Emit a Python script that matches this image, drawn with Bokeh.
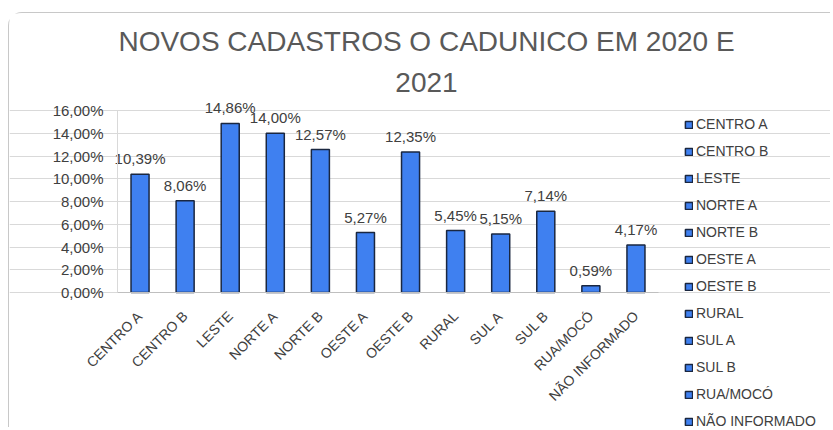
from math import pi
from bokeh.plotting import figure
from bokeh.models import ColumnDataSource, Range1d, FixedTicker, Label
from bokeh.core.properties import value
from bokeh.embed import file_html
from bokeh.resources import INLINE

# ---- data ----
categories = ["CENTRO A", "CENTRO B", "LESTE", "NORTE A", "NORTE B", "OESTE A",
              "OESTE B", "RURAL", "SUL A", "SUL B", "RUA/MOCÓ", "NÃO INFORMADO"]
percentages = [10.39, 8.06, 14.86, 14.00, 12.57, 5.27, 12.35, 5.45, 5.15, 7.14, 0.59, 4.17]
y_ticks = [0, 2, 4, 6, 8, 10, 12, 14, 16]
y_tick_labels = ["0,00%", "2,00%", "4,00%", "6,00%", "8,00%", "10,00%",
                 "12,00%", "14,00%", "16,00%"]
title_line1 = "NOVOS CADASTROS O CADUNICO EM 2020 E"
title_line2 = "2021"

value_labels = [f"{v:.2f}".replace(".", ",") + "%" for v in percentages]
positions = list(range(len(categories)))

FONT = "Liberation Sans"
TXT = "#404040"
BAR_FILL = "#3F80F0"
BAR_LINE = "#1a2740"

source = ColumnDataSource(data=dict(pos=positions, cat=categories,
                                    val=percentages, lab=value_labels))

# ---- geometry (canvas px; the frame covers the whole canvas) ----
W, H = 822, 415
PLOT_L, PLOT_R = 108, 649      # horizontal extent of the bar area
Y0_PX, Y16_PX = 279, 97        # vertical pixel rows of 0 % and 16 %
n = len(categories)
px_per_cat = (PLOT_R - PLOT_L) / n
px_per_unit = (Y0_PX - Y16_PX) / 16.0
x_start = -0.5 - PLOT_L / px_per_cat
x_end = x_start + W / px_per_cat
y_start = -(H - Y0_PX) / px_per_unit
y_end = 16 + Y16_PX / px_per_unit

p = figure(
    x_range=Range1d(x_start, x_end),
    y_range=Range1d(y_start, y_end),
    width=W, height=H,
    output_backend="svg",
    toolbar_location=None,
    title=None,
    min_border_left=0, min_border_right=0,
    min_border_top=0, min_border_bottom=0,
)
p.styles = {
    "border-top": "1px solid #c8c8c8",
    "border-left": "1px solid #c8c8c8",
    "border-top-left-radius": "14px",
    "margin-top": "12px",
    "margin-left": "8px",
}
p.outline_line_color = None
p.background_fill_color = "white"
p.border_fill_color = "white"

# title (frame-relative screen units, y up from the bottom)
for txt, bottom_px in ((title_line1, 43), (title_line2, 78)):
    p.add_layout(Label(x=417, y=H - bottom_px, x_units="screen", y_units="screen",
                       text=txt, text_align="center", text_baseline="bottom",
                       text_font=FONT, text_font_size="28px", text_color="#595959"))

p.vbar(x="pos", top="val", width=0.4, source=source,
       fill_color=BAR_FILL, line_color=BAR_LINE, line_width=1.5,
       legend_field="cat")

p.text(x="pos", y="val", text="lab", source=source,
       text_align="center", text_baseline="bottom", y_offset=-7,
       text_font=value(FONT), text_font_size="15px", text_color=TXT)

# y axis, drawn at the left edge of the bar area
p.yaxis.fixed_location = -0.5
p.yaxis.ticker = FixedTicker(ticks=y_ticks)
p.yaxis.major_label_overrides = {t: l for t, l in zip(y_ticks, y_tick_labels)}
p.yaxis.bounds = (0, 16)
p.yaxis.major_tick_line_color = None
p.yaxis.minor_tick_line_color = None
p.yaxis.axis_line_color = "#d9d9d9"
p.yaxis.major_label_standoff = 8
p.yaxis.major_label_text_font = FONT
p.yaxis.major_label_text_font_size = "15px"
p.yaxis.major_label_text_color = TXT

# x axis (category names at the bar positions, drawn at y = 0)
p.xaxis.fixed_location = 0
p.xaxis.ticker = FixedTicker(ticks=positions)
p.xaxis.major_label_overrides = {i: c for i, c in zip(positions, categories)}
p.xaxis.bounds = (-0.5, n - 0.5)
p.xaxis.major_label_orientation = pi / 4
p.xaxis.major_tick_line_color = None
p.xaxis.minor_tick_line_color = None
p.xaxis.axis_line_color = "#bfbfbf"
p.xaxis.major_label_standoff = 15
p.xaxis.major_label_text_font = FONT
p.xaxis.major_label_text_font_size = "14px"
p.xaxis.major_label_text_color = TXT

p.xgrid.grid_line_color = None
p.ygrid.grid_line_color = "#d9d9d9"
p.ygrid.ticker = FixedTicker(ticks=y_ticks)
p.ygrid.bounds = (-0.5, n - 0.5)

# legend
lg = p.legend[0]
lg.location = (675, H - 418)
lg.border_line_color = None
lg.background_fill_alpha = 0
lg.padding = 0
lg.margin = 0
lg.spacing = 7
lg.label_height = 20
lg.glyph_height = 9
lg.glyph_width = 9
lg.label_standoff = 3
lg.label_text_font = FONT
lg.label_text_font_size = "14px"
lg.label_text_color = TXT

open("out.html", "w").write(file_html(p, INLINE))
